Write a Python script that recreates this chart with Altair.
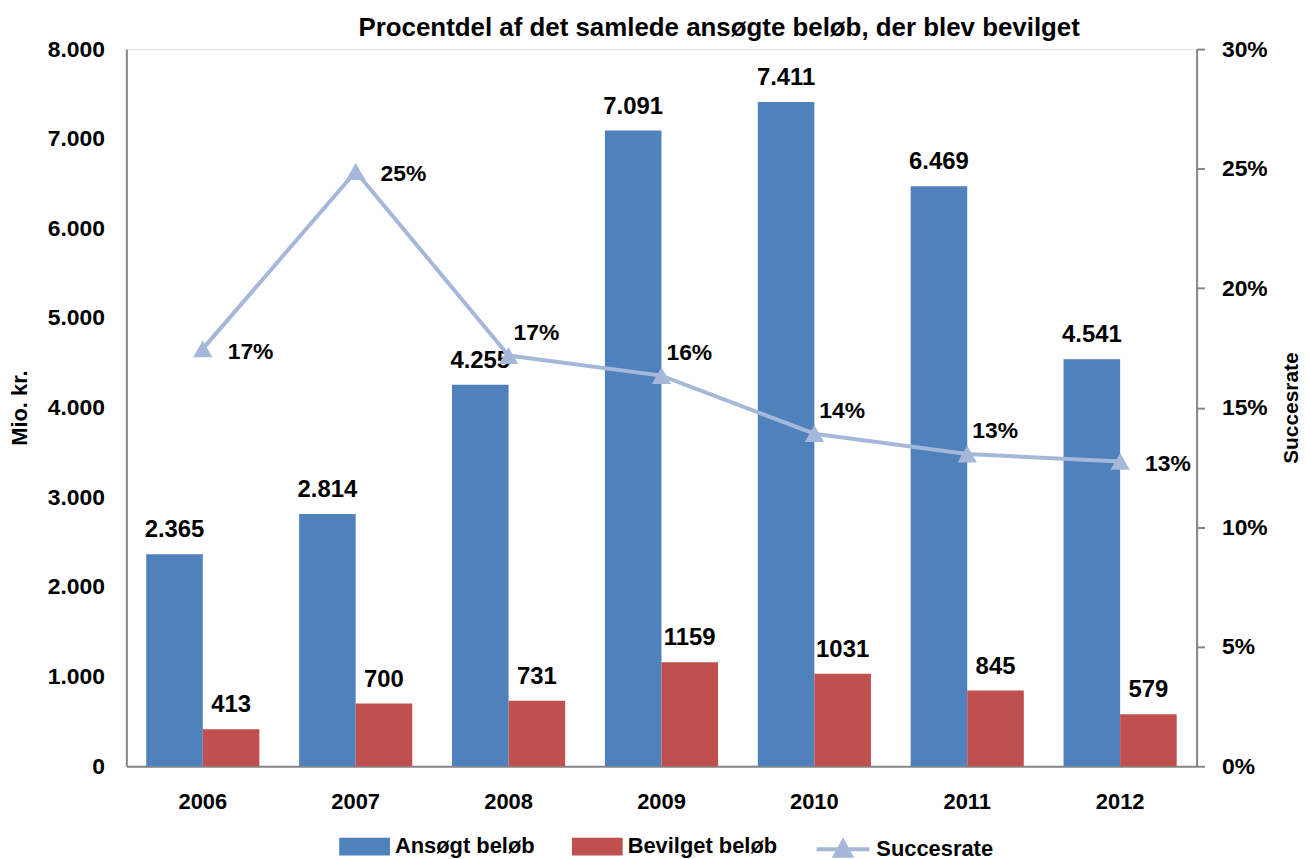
import altair as alt
import pandas as pd

years = ["2006", "2007", "2008", "2009", "2010", "2011", "2012"]
ansoegt = [2365, 2814, 4255, 7091, 7411, 6469, 4541]
bevilget = [413, 700, 731, 1159, 1031, 845, 579]
succesrate = [0.1746, 0.2488, 0.1718, 0.1634, 0.1391, 0.1306, 0.1275]
series = ["Ansøgt beløb", "Bevilget beløb"]
bar_colors = ["#4F81BD", "#C0504D"]
line_name = "Succesrate"
line_color = "#A5B8DA"
labels_right = ["2006", "2007", "2012"]
labels_above = ["2008", "2009", "2010", "2011"]

FONT = "Liberation Sans"
GRAY = "#868686"

bars_df = pd.DataFrame({
    "year": years * 2,
    "serie": [series[0]] * len(years) + [series[1]] * len(years),
    "value": ansoegt + bevilget,
})
line_df = pd.DataFrame({"year": years, "rate": succesrate, "serie": [line_name] * len(years)})

x_enc = alt.X(
    "year:N", title=None, sort=years,
    scale=alt.Scale(paddingInner=0.26, paddingOuter=0.13),
    axis=alt.Axis(labelAngle=0, labelFontSize=22, labelFontWeight="bold", labelColor="black",
                  labelPadding=26, ticks=False, domainColor=GRAY, domainWidth=2, labelFont=FONT),
)
xoff = alt.XOffset("serie:N", sort=series, scale=alt.Scale(domain=series, paddingInner=0, paddingOuter=0))
y_bar = alt.Y(
    "value:Q", scale=alt.Scale(domain=[0, 8000]),
    axis=alt.Axis(title="Mio. kr.", values=list(range(0, 8001, 1000)),
                  labelExpr="replace(datum.label, ',', '.')", ticks=False, grid=False,
                  labelFontSize=23, labelFontWeight="bold", labelColor="black", labelPadding=22,
                  domainColor=GRAY, domainWidth=2, titleFontSize=22, titleFontWeight="bold",
                  titleColor="black", titlePadding=16, labelFont=FONT, titleFont=FONT),
)

bars = alt.Chart(bars_df).mark_bar().encode(
    x=x_enc, xOffset=xoff, y=y_bar,
    fill=alt.Fill("serie:N", scale=alt.Scale(domain=series, range=bar_colors),
                  legend=alt.Legend(title=None, orient="none", legendX=214, legendY=776,
                                    direction="horizontal",
                                    symbolType="M-1,-0.35H1V0.35H-1Z", symbolSize=2601,
                                    labelFontSize=22, labelFontWeight="bold", labelFont=FONT,
                                    labelColor="black", columnPadding=37, labelOffset=5,
                                    symbolStrokeWidth=0)),
)
bar_text = alt.Chart(bars_df).transform_calculate(
    lbl="datum.serie == 'Ansøgt beløb' ? replace(format(datum.value, ','), ',', '.') : format(datum.value, 'd')"
).mark_text(baseline="alphabetic", dy=-17, fontSize=24, fontWeight="bold", font=FONT, color="black").encode(
    x=x_enc, xOffset=xoff, y=alt.Y("value:Q"), text="lbl:N",
)

y_line = alt.Y(
    "rate:Q", scale=alt.Scale(domain=[0, 0.3]),
    axis=alt.Axis(orient="right", title="Succesrate", format=".0%",
                  values=[0, 0.05, 0.10, 0.15, 0.20, 0.25, 0.30], grid=False,
                  ticks=True, tickSize=8, tickColor=GRAY, tickWidth=2,
                  labelFontSize=23, labelFontWeight="bold", labelColor="black", labelPadding=17,
                  domainColor=GRAY, domainWidth=2, titleFontSize=21, titleFontWeight="bold",
                  titleColor="black", titlePadding=13, titleAngle=270, titleBaseline="top",
                  labelFont=FONT, titleFont=FONT),
)

line = alt.Chart(line_df).mark_line(strokeWidth=4).encode(
    x=x_enc, y=y_line,
    stroke=alt.Stroke("serie:N", scale=alt.Scale(domain=[line_name], range=[line_color]),
                      legend=alt.Legend(title=None, orient="none", legendX=692, legendY=776,
                                        direction="horizontal",
                                        symbolType="M-1,0H1M-0.3,0.25L0,-0.3L0.3,0.25Z",
                                        symbolSize=2809, symbolFillColor=line_color,
                                        symbolStrokeWidth=4, labelFontSize=22,
                                        labelFontWeight="bold", labelFont=FONT,
                                        labelColor="black", labelOffset=5)),
)
pts = alt.Chart(line_df).mark_point(shape="triangle-up", filled=True, size=380, color=line_color, opacity=1).encode(
    x=x_enc, y=alt.Y("rate:Q"),
)
txt_right = alt.Chart(line_df).transform_filter(
    alt.FieldOneOfPredicate(field="year", oneOf=labels_right)
).mark_text(align="left", baseline="middle", dx=25, dy=3, fontSize=23, fontWeight="bold",
            font=FONT, color="black").encode(
    x=x_enc, y=alt.Y("rate:Q"), text=alt.Text("rate:Q", format=".0%"),
)
txt_above = alt.Chart(line_df).transform_filter(
    alt.FieldOneOfPredicate(field="year", oneOf=labels_above)
).mark_text(align="left", baseline="middle", dx=5, dy=-23, fontSize=23, fontWeight="bold",
            font=FONT, color="black").encode(
    x=x_enc, y=alt.Y("rate:Q"), text=alt.Text("rate:Q", format=".0%"),
)

chart = alt.layer(
    alt.layer(bars, bar_text),
    alt.layer(line, pts, txt_right, txt_above),
).resolve_scale(y="independent", fill="independent", stroke="independent").properties(
    width=1076, height=721,
    padding={"left": 0, "right": 0, "top": 5, "bottom": 0},
    title=alt.Title("Procentdel af det samlede ansøgte beløb, der blev bevilget",
                    fontSize=26, font=FONT, fontWeight="bold", color="black",
                    anchor="middle", frame="group", dx=58, offset=-29, baseline="bottom"),
).configure_view(stroke=None).configure(font=FONT)

chart.save("out.html", embed_options={"renderer": "svg", "actions": False})
